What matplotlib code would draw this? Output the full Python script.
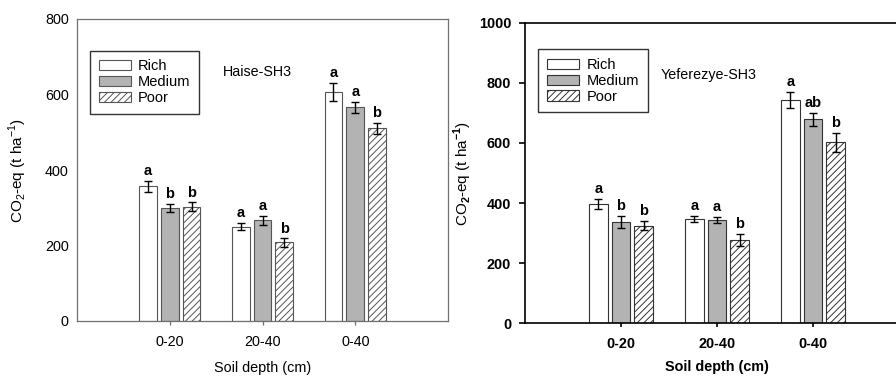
import matplotlib
matplotlib.use("Agg")
import matplotlib.pyplot as plt
import numpy as np

plt.rcParams['font.family'] = ['Liberation Sans', 'DejaVu Sans']
plt.rcParams['hatch.color'] = '#8a8a8a'
plt.rcParams['hatch.linewidth'] = 0.7
plt.rcParams['mathtext.fontset'] = 'custom'
plt.rcParams['mathtext.rm'] = 'Liberation Sans'
plt.rcParams['mathtext.bf'] = 'Liberation Sans:bold'

depths = ["0-20", "20-40", "0-40"]
classes = ["Rich", "Medium", "Poor"]

haise_vals = {"Rich": [357, 250, 606], "Medium": [300, 267, 566], "Poor": [303, 208, 510]}
haise_err = {"Rich": [14, 10, 24], "Medium": [11, 12, 15], "Poor": [11, 11, 15]}
haise_letters = {"Rich": ["a", "a", "a"], "Medium": ["b", "a", "a"], "Poor": ["b", "b", "b"]}

yef_vals = {"Rich": [397, 347, 743], "Medium": [338, 343, 679], "Poor": [325, 277, 602]}
yef_err = {"Rich": [18, 11, 28], "Medium": [20, 10, 21], "Poor": [15, 20, 32]}
yef_letters = {"Rich": ["a", "a", "a"], "Medium": ["b", "a", "ab"], "Poor": ["b", "b", "b"]}

fills = {"Rich": "white", "Medium": "#b3b3b3", "Poor": "white"}
hatches = {"Rich": None, "Medium": None, "Poor": "/////"}

fig = plt.figure(figsize=(8.96, 3.76), dpi=100)

def panel(ax, vals, errs, letters, ymax, bold, spine_col, spine_lw, edge, leg_top, xlpad):
    x = np.arange(1, len(depths) + 1)
    w = 0.19
    off = 0.235
    weight = 'bold' if bold else 'normal'
    handles = []
    for i, c in enumerate(classes):
        xs = x + (i - 1) * off
        b = ax.bar(xs, vals[c], width=w, color=fills[c], edgecolor=edge,
                   linewidth=0.8, hatch=hatches[c], label=c, zorder=2)
        handles.append(b)
        ax.errorbar(xs, vals[c], yerr=errs[c], fmt='none', ecolor='black',
                    elinewidth=1.0, capsize=3, capthick=1.0, zorder=3)
        for xi, v, e, l in zip(xs, vals[c], errs[c], letters[c]):
            ax.annotate(l, (xi, v + e), xytext=(0, 2), textcoords='offset points',
                        ha='center', va='bottom', fontsize=10.5, fontweight='bold')
    ax.set_xlim(0, 4)
    ax.set_ylim(0, ymax)
    ax.set_xticks(x)
    ax.set_xticklabels(depths, fontsize=10.4, fontweight=weight)
    ticks = np.arange(0, ymax + 1, 200)
    ax.set_yticks(ticks)
    ax.set_yticklabels([str(v) for v in ticks], fontsize=10.4, fontweight=weight)
    for s in ax.spines.values():
        s.set_color(spine_col)
        s.set_linewidth(spine_lw)
    ax.tick_params(axis='x', direction='out', length=3, width=spine_lw, color=spine_col, pad=7)
    ax.tick_params(axis='y', direction='out', length=(4 if bold else 0), width=spine_lw, color=spine_col, pad=6)
    leg = ax.legend(handles=handles, loc='upper left', bbox_to_anchor=(0.035, leg_top),
                    fontsize=10.5, frameon=True, fancybox=False, edgecolor='black',
                    handlelength=2.2, handleheight=0.7, labelspacing=0.12,
                    borderpad=0.6, handletextpad=0.5, borderaxespad=0)
    leg.get_frame().set_linewidth(1.0)
    if bold:
        ylab = r'CO$_\mathbf{2}$-eq (t ha$^{\mathbf{-1}}$)'
    else:
        ylab = r'CO$_2$-eq (t ha$^{-1}$)'
    ax.set_ylabel(ylab, fontsize=11)
    ax.set_xlabel('Soil depth (cm)', fontsize=10.4, fontweight=weight, labelpad=xlpad)
    return ax

ax1 = fig.add_axes([77/896, 55/376, 371/896, 302/376])
panel(ax1, haise_vals, haise_err, haise_letters, 800, False, '#707070', 0.9, '#555555', 0.895, 9)
ax1.text(0.394, 0.825, "Haise-SH3", transform=ax1.transAxes, fontsize=10.3, va='center', ha='left')
ax1.yaxis.set_label_coords(-0.13, 0.5)

ax2 = fig.add_axes([525/896, 52.7/376, 384/896, 300.6/376])
panel(ax2, yef_vals, yef_err, yef_letters, 1000, True, 'black', 1.2, '#333333', 0.911, 6)
ax2.spines['right'].set_visible(False)
ax2.text(0.354, 0.826, "Yeferezye-SH3", transform=ax2.transAxes, fontsize=10.3, va='center', ha='left')
ax2.yaxis.set_label_coords(-0.132, 0.5)

fig.savefig("out.png", dpi=100)
